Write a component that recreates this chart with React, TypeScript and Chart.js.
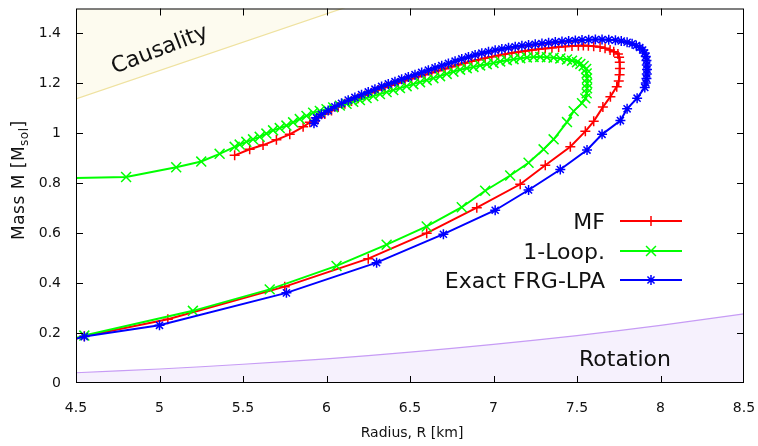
import React, { useEffect, useRef } from 'react';
import { Chart, registerables } from 'chart.js';
Chart.register(...registerables);

const FONT = "'DejaVu Sans', sans-serif";

const X_TICKS = [4.5, 5, 5.5, 6, 6.5, 7, 7.5, 8, 8.5];
const Y_TICKS = [0, 0.2, 0.4, 0.6, 0.8, 1, 1.2, 1.4];
const X_TITLE = 'Radius, R [km]';
const Y_TITLE_MAIN = 'Mass M [M';
const Y_TITLE_SUB = 'sol';
const Y_TITLE_END = ']';
const SERIES_NAMES = ['MF', '1-Loop.', 'Exact FRG-LPA'];
const REGION_LABELS = ['Causality', 'Rotation'];

// MF
const MF_R = [4.45, 4.55, 5.05, 5.75, 6.25, 6.60, 6.90, 7.16, 7.31, 7.46, 7.55, 7.60, 7.655, 7.70, 7.738, 7.750, 7.755, 7.757, 7.756, 7.752, 7.745, 7.72, 7.698, 7.668, 7.638, 7.60, 7.568, 7.538, 7.508, 7.47, 7.43, 7.39, 7.35, 7.31, 7.27, 7.23, 7.19, 7.15, 7.11, 7.07, 7.03, 6.99, 6.95, 6.91, 6.87, 6.83, 6.79, 6.75, 6.71, 6.67, 6.63, 6.59, 6.55, 6.51, 6.47, 6.43, 6.39, 6.35, 6.31, 6.27, 6.23, 6.19, 6.15, 6.11, 6.07, 6.03, 5.99, 5.95, 5.90, 5.86, 5.78, 5.70, 5.62, 5.54, 5.45];
const MF_M = [0.168, 0.187, 0.255, 0.386, 0.498, 0.600, 0.702, 0.796, 0.872, 0.946, 1.008, 1.048, 1.105, 1.147, 1.187, 1.21, 1.235, 1.26, 1.285, 1.305, 1.318, 1.327, 1.334, 1.341, 1.346, 1.349, 1.351, 1.352, 1.351, 1.350, 1.348, 1.346, 1.343, 1.340, 1.337, 1.334, 1.330, 1.326, 1.322, 1.317, 1.312, 1.307, 1.301, 1.295, 1.289, 1.282, 1.275, 1.267, 1.259, 1.251, 1.243, 1.235, 1.227, 1.219, 1.211, 1.202, 1.193, 1.184, 1.174, 1.163, 1.152, 1.141, 1.130, 1.118, 1.105, 1.091, 1.077, 1.062, 1.044, 1.026, 0.996, 0.974, 0.953, 0.936, 0.912];

// 1-Loop
const LOOP_R = [4.45, 4.55, 5.20, 5.66, 6.06, 6.36, 6.60, 6.81, 6.95, 7.10, 7.21, 7.30, 7.36, 7.44, 7.48, 7.53, 7.55, 7.558, 7.56, 7.561, 7.56, 7.558, 7.555, 7.54, 7.52, 7.50, 7.47, 7.44, 7.40, 7.36, 7.32, 7.28, 7.24, 7.20, 7.16, 7.12, 7.08, 7.04, 7.00, 6.96, 6.92, 6.88, 6.84, 6.80, 6.76, 6.72, 6.68, 6.64, 6.60, 6.56, 6.52, 6.48, 6.44, 6.40, 6.36, 6.32, 6.28, 6.24, 6.20, 6.16, 6.12, 6.08, 6.04, 6.00, 5.96, 5.92, 5.88, 5.84, 5.80, 5.76, 5.72, 5.68, 5.64, 5.60, 5.56, 5.52, 5.48, 5.45, 5.36, 5.25, 5.10, 4.80, 4.40];
const LOOP_M = [0.170, 0.190, 0.289, 0.375, 0.469, 0.554, 0.627, 0.704, 0.770, 0.831, 0.882, 0.936, 0.976, 1.045, 1.089, 1.121, 1.14, 1.16, 1.18, 1.20, 1.22, 1.24, 1.258, 1.270, 1.278, 1.285, 1.291, 1.296, 1.300, 1.303, 1.305, 1.306, 1.306, 1.304, 1.301, 1.297, 1.293, 1.288, 1.282, 1.277, 1.272, 1.266, 1.261, 1.255, 1.247, 1.238, 1.229, 1.221, 1.213, 1.205, 1.197, 1.189, 1.181, 1.173, 1.165, 1.157, 1.149, 1.141, 1.133, 1.126, 1.118, 1.111, 1.104, 1.097, 1.090, 1.083, 1.070, 1.057, 1.044, 1.031, 1.021, 1.012, 0.999, 0.986, 0.976, 0.966, 0.955, 0.946, 0.918, 0.887, 0.864, 0.825, 0.820];

// Exact FRG-LPA
const FRG_R = [4.45, 4.55, 5.00, 5.76, 6.30, 6.70, 7.01, 7.21, 7.40, 7.56, 7.65, 7.76, 7.80, 7.86, 7.906, 7.912, 7.916, 7.918, 7.919, 7.918, 7.916, 7.912, 7.905, 7.893, 7.876, 7.855, 7.83, 7.80, 7.765, 7.73, 7.69, 7.65, 7.61, 7.57, 7.53, 7.49, 7.45, 7.41, 7.37, 7.33, 7.29, 7.25, 7.21, 7.17, 7.13, 7.09, 7.05, 7.01, 6.97, 6.93, 6.89, 6.85, 6.81, 6.77, 6.73, 6.69, 6.65, 6.61, 6.57, 6.53, 6.49, 6.45, 6.41, 6.37, 6.33, 6.29, 6.25, 6.21, 6.17, 6.13, 6.09, 6.05, 6.01, 5.97, 5.94, 5.93, 5.925];
const FRG_M = [0.168, 0.186, 0.231, 0.361, 0.482, 0.596, 0.692, 0.773, 0.855, 0.933, 0.996, 1.051, 1.098, 1.141, 1.184, 1.202, 1.220, 1.238, 1.256, 1.274, 1.292, 1.308, 1.322, 1.334, 1.344, 1.352, 1.359, 1.365, 1.370, 1.373, 1.375, 1.376, 1.376, 1.375, 1.374, 1.372, 1.370, 1.368, 1.366, 1.363, 1.360, 1.357, 1.354, 1.351, 1.347, 1.343, 1.338, 1.333, 1.327, 1.321, 1.314, 1.306, 1.298, 1.289, 1.280, 1.271, 1.262, 1.253, 1.244, 1.235, 1.226, 1.217, 1.207, 1.198, 1.188, 1.177, 1.166, 1.155, 1.144, 1.133, 1.120, 1.106, 1.091, 1.076, 1.062, 1.050, 1.040];

// Causality limit line and rotation (mass-shedding) line
const CAUS_R = [4.5, 6.5];
const CAUS_M = [1.138, 1.592];
const ROT_R = [4.5, 5, 5.5, 6, 6.5, 7, 7.5, 8, 8.5];
const ROT_M = [0.041, 0.056, 0.075, 0.097, 0.124, 0.155, 0.190, 0.231, 0.277];

const COLORS = ['#ff0000', '#00ff00', '#0000ff'];
const STYLES = ['cross', 'crossRot', 'star'];
const RADII = [5, 7, 5];

const pts = (r: number[], m: number[]) => r.map((x, i) => ({ x, y: m[i] }));

function drawMarker(ctx: CanvasRenderingContext2D, style: string, cx: number, cy: number, r: number) {
  ctx.beginPath();
  if (style === 'cross' || style === 'star') {
    ctx.moveTo(cx - r, cy); ctx.lineTo(cx + r, cy);
    ctx.moveTo(cx, cy - r); ctx.lineTo(cx, cy + r);
  }
  if (style === 'crossRot' || style === 'star') {
    const d = r * Math.SQRT1_2;
    ctx.moveTo(cx - d, cy - d); ctx.lineTo(cx + d, cy + d);
    ctx.moveTo(cx - d, cy + d); ctx.lineTo(cx + d, cy - d);
  }
  ctx.stroke();
}

const overlay = {
  id: 'overlay',
  afterDraw(chart: any) {
    const { ctx, chartArea: a, scales } = chart;
    const xs = scales.x, ys = scales.y;
    ctx.save();
    // frame
    ctx.strokeStyle = '#000';
    ctx.lineWidth = 1;
    ctx.strokeRect(a.left + 0.5, a.top + 0.5, a.right - a.left - 1, a.bottom - a.top - 1);
    // inward mirrored ticks
    const tl = 7;
    ctx.beginPath();
    X_TICKS.forEach((v) => {
      const px = Math.round(xs.getPixelForValue(v)) + 0.5;
      if (px <= a.left + 1 || px >= a.right - 1) return;
      ctx.moveTo(px, a.bottom); ctx.lineTo(px, a.bottom - tl);
      ctx.moveTo(px, a.top); ctx.lineTo(px, a.top + tl);
    });
    Y_TICKS.forEach((v) => {
      const py = Math.round(ys.getPixelForValue(v)) + 0.5;
      if (py >= a.bottom - 1 || py <= a.top + 1) return;
      ctx.moveTo(a.left, py); ctx.lineTo(a.left + tl, py);
      ctx.moveTo(a.right, py); ctx.lineTo(a.right - tl, py);
    });
    ctx.stroke();

    ctx.fillStyle = '#111';
    // region labels
    ctx.font = `22px ${FONT}`;
    ctx.textAlign = 'center';
    ctx.textBaseline = 'alphabetic';
    ctx.save();
    ctx.translate(159, 48);
    ctx.rotate(-21 * Math.PI / 180);
    ctx.fillText(REGION_LABELS[0], 0, 8);
    ctx.restore();
    ctx.fillText(REGION_LABELS[1], 625, 366);

    // legend
    const rows = [221, 251, 280];
    SERIES_NAMES.forEach((name, i) => {
      const y = rows[i];
      ctx.fillStyle = '#111';
      ctx.textAlign = 'right';
      ctx.font = `22px ${FONT}`;
      ctx.fillText(name, 605, y + 8);
      ctx.strokeStyle = COLORS[i];
      ctx.lineWidth = 2;
      ctx.beginPath();
      ctx.moveTo(620, y); ctx.lineTo(682, y);
      ctx.stroke();
      ctx.lineWidth = 1.5;
      drawMarker(ctx, STYLES[i], 651, y, RADII[i]);
    });

    // axis titles
    ctx.fillStyle = '#111';
    ctx.font = `14px ${FONT}`;
    ctx.textAlign = 'center';
    ctx.fillText(X_TITLE, (a.left + a.right) / 2 + 2, 437);

    ctx.save();
    ctx.translate(24, 240);
    ctx.rotate(-Math.PI / 2);
    ctx.textAlign = 'left';
    try { (ctx as any).letterSpacing = '0.5px'; } catch (e) { /* ignore */ }
    ctx.font = `17px ${FONT}`;
    ctx.fillText(Y_TITLE_MAIN, 0, 0);
    const w1 = ctx.measureText(Y_TITLE_MAIN).width;
    ctx.font = `12px ${FONT}`;
    ctx.fillText(Y_TITLE_SUB, w1, 4);
    const w2 = ctx.measureText(Y_TITLE_SUB).width;
    ctx.font = `17px ${FONT}`;
    ctx.fillText(Y_TITLE_END, w1 + w2, 0);
    try { (ctx as any).letterSpacing = '0px'; } catch (e) { /* ignore */ }
    ctx.restore();

    ctx.restore();
  },
};

export default function App() {
  const ref = useRef<HTMLCanvasElement>(null);
  useEffect(() => {
    const series = [
      { r: FRG_R, m: FRG_M, i: 2, order: 1 },
      { r: LOOP_R, m: LOOP_M, i: 1, order: 2 },
      { r: MF_R, m: MF_M, i: 0, order: 3 },
    ];
    const datasets: any[] = series.map((s) => ({
      label: SERIES_NAMES[s.i],
      data: pts(s.r, s.m),
      showLine: true,
      borderColor: COLORS[s.i],
      backgroundColor: COLORS[s.i],
      borderWidth: 2,
      pointStyle: STYLES[s.i],
      pointRadius: RADII[s.i],
      pointBorderWidth: 1.5,
      pointBorderColor: COLORS[s.i],
      tension: 0,
      fill: false,
      order: s.order,
    }));
    datasets.push({
      label: 'caus',
      data: pts(CAUS_R, CAUS_M),
      showLine: true,
      borderColor: '#efe2a0',
      backgroundColor: '#fdfbef',
      borderWidth: 1.2,
      pointRadius: 0,
      fill: 'end',
      order: 10,
    });
    datasets.push({
      label: 'rot',
      data: pts(ROT_R, ROT_M),
      showLine: true,
      borderColor: '#c79cf5',
      backgroundColor: '#f6f1fd',
      borderWidth: 1.2,
      pointRadius: 0,
      tension: 0.3,
      fill: 'start',
      order: 11,
    });

    const zeroPad = (s: any) => {
      s.paddingLeft = 0; s.paddingRight = 0; s.paddingTop = 0; s.paddingBottom = 0;
    };

    const chart = new Chart(ref.current as HTMLCanvasElement, {
      type: 'scatter',
      data: { datasets },
      options: {
        animation: false,
        responsive: false,
        layout: { padding: { left: 0, right: 14, top: 2, bottom: 0 } },
        plugins: { legend: { display: false }, tooltip: { enabled: false }, title: { display: false } },
        scales: {
          x: {
            type: 'linear',
            min: 4.5,
            max: 8.5,
            grid: { display: false },
            border: { display: false },
            afterBuildTicks: (s: any) => { s.ticks = X_TICKS.map((v) => ({ value: v })); },
            afterFit: (s: any) => { s.height = 63; zeroPad(s); },
            ticks: {
              autoSkip: false,
              maxRotation: 0,
              padding: 9,
              color: '#111',
              font: { family: FONT, size: 14 },
              callback: (v: any) => String(v),
            },
          },
          y: {
            type: 'linear',
            min: 0,
            max: 1.5,
            grid: { display: false },
            border: { display: false },
            afterBuildTicks: (s: any) => { s.ticks = Y_TICKS.map((v) => ({ value: v })); },
            afterFit: (s: any) => { s.width = 76; zeroPad(s); },
            ticks: {
              autoSkip: false,
              padding: 7,
              color: '#111',
              font: { family: FONT, size: 14 },
              callback: (v: any) => String(v),
            },
          },
        },
      },
      plugins: [overlay],
    } as any);
    return () => chart.destroy();
  }, []);
  return (
    <div style={{ position: 'absolute', left: 0, top: 0, width: 758, height: 446, background: '#fff' }}>
      <canvas ref={ref} width={758} height={446} style={{ display: 'block' }} />
    </div>
  );
}
